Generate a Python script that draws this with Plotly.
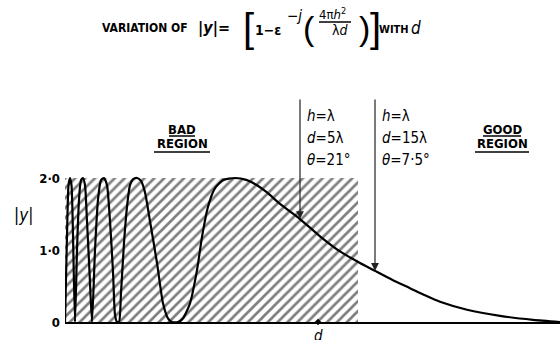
import plotly.graph_objects as go

# curve |y| against d (horizontal scale is the drawing's)
d_vals = [0.0, 0.4, 0.7, 1.0, 1.3, 1.6, 2.0, 2.4, 2.8, 3.2, 3.6, 4.0, 4.4, 4.9, 5.4,
          6.0, 6.6, 7.2, 7.8, 8.4, 9.0, 9.6, 10.0, 10.4, 10.8, 11.2, 11.8, 12.4, 13.0,
          13.6, 14.4, 15.2, 16.0, 17.0, 18.4, 19.6, 20.6, 21.4, 22.6, 23.6, 25.0, 26.4,
          27.4, 28.6, 30.0, 31.6, 34.0, 36.4, 38.4, 40.4, 43.0, 47.0, 51.0, 55.0, 59.0,
          62.0, 65.6, 69.0, 72.0, 75.0, 80.4, 87.0, 93.6, 99.0]
y_vals = [0.0, 1.2, 1.9, 2.0, 1.9, 1.2, 0.0, 1.0, 1.7, 1.97, 2.0, 1.9, 1.4, 0.7, 0.0,
          1.0, 1.7, 1.97, 2.0, 1.9, 1.4, 0.7, 0.1, 0.0, 0.0, 0.4, 1.1, 1.6, 1.9,
          1.98, 2.0, 1.96, 1.8, 1.4, 0.82, 0.26, 0.05, 0.0, 0.0, 0.05, 0.26, 0.72,
          1.18, 1.6, 1.86, 1.97, 2.0, 1.97, 1.9, 1.8, 1.64, 1.43, 1.19, 0.98, 0.82,
          0.71, 0.58, 0.47, 0.37, 0.28, 0.17, 0.085, 0.03, 0.0]

bad_region_end = 58.6      # right edge of the hatched zone
bad_region_top = 2.0

arrow_d = [47.0, 62.0]
arrow_y = [1.43, 0.71]
arrow_labels = [
    ["<i>h</i>=λ", "<i>d</i>=5λ", "<i>θ</i>=21°"],
    ["<i>h</i>=λ", "<i>d</i>=15λ", "<i>θ</i>=7·5°"],
]
d_mark = 50.6

ytick_vals = [0, 1, 2]
ytick_text = ["<b>0</b>", "<b>1·0</b>", "<b>2·0</b>"]

FONT = "Liberation Sans Narrow, DejaVu Sans Condensed, Arial Narrow, Liberation Sans, sans-serif"
THIN = "Liberation Sans, Arial, sans-serif"

W, H = 560, 340
L, R, T, B = 65, 0, 20, 18
XMAX = (W - L - R) / 5.0
YMAX = (H - T - B) / 72.0


def px(x, y):
    # page pixel position -> paper coords
    return (x - L) / (W - L - R), (H - B - y) / (H - T - B)


fig = go.Figure()

fig.add_trace(go.Bar(
    x=[bad_region_end / 2], y=[bad_region_top], width=[bad_region_end], base=0,
    marker=dict(color="white", line=dict(width=0),
                pattern=dict(shape="/", fgcolor="#000", bgcolor="white", size=7, solidity=0.38)),
    hoverinfo="skip", showlegend=False,
))

fig.add_trace(go.Scatter(
    x=d_vals, y=y_vals, mode="lines",
    line=dict(color="black", width=2.2, shape="spline", smoothing=0.6),
    showlegend=False,
))

fig.add_trace(go.Scatter(
    x=[d_mark], y=[0], mode="markers",
    marker=dict(symbol="diamond", size=5, color="black"),
    showlegend=False, cliponaxis=False,
))

ann = []


def text(x, y, s, size=12, bold=False, family=FONT, **kw):
    xp, yp = px(x, y)
    if bold:
        s = "<b>" + s + "</b>"
    opts = dict(xanchor="center", yanchor="middle")
    opts.update(kw)
    ann.append(dict(x=xp, y=yp, xref="paper", yref="paper", text=s, showarrow=False,
                    font=dict(family=family, size=size, color="black"), **opts))


# title built from pieces
text(145, 28, "VARIATION OF", 12, True)
text(214, 28, "|<i>y</i>|=", 16, True)
text(248, 28, "[", 40, family=THIN)
text(268, 30, "1−ε", 14, True)
text(294, 16, "−<i>j</i>", 15)
text(309, 28, "(", 34, family=THIN)
text(332, 14, "4π<i>h</i><sup>2</sup>", 13)
text(340, 30, "λ<i>d</i>", 14)
text(364, 28, ")", 34, family=THIN)
text(375, 28, "]", 40, family=THIN)
text(394, 29, "WITH", 11, True)
text(416, 28, "<i>d</i>", 17)

# region labels
text(182, 129, "BAD", 13, True)
text(182, 143, "REGION", 13, True)
text(502, 129, "GOOD", 13, True)
text(502, 143, "REGION", 13, True)

# axis labels
text(23, 215, "|<i>y</i>|", 17)
text(318, 336, "<i>d</i>", 15)

# arrows to the curve and their captions
for d, yv, lines in zip(arrow_d, arrow_y, arrow_labels):
    ann.append(dict(x=d, y=yv, xref="x", yref="y", ax=d, ay=(322 - 98) / 72.0,
                    axref="x", ayref="y", showarrow=True, arrowhead=2, arrowsize=1.3,
                    arrowwidth=1.2, arrowcolor="#222", text=""))
    for ln, yy in zip(lines, [116, 138, 160]):
        text(65 + d * 5 + 5, yy, ln, 15, xanchor="left")

shapes = []
for x0, x1, y in [(319, 351, 22), (169, 195, 136), (154, 210, 152), (483, 521, 136), (475, 529, 152)]:
    a, b = px(x0, y), px(x1, y)
    shapes.append(dict(type="line", xref="paper", yref="paper", x0=a[0], x1=b[0],
                       y0=a[1], y1=b[1], line=dict(color="black", width=1.5)))

fig.update_layout(
    width=W, height=H,
    margin=dict(l=L, r=R, t=T, b=B),
    paper_bgcolor="white", plot_bgcolor="white",
    annotations=ann, shapes=shapes,
    bargap=0,
    xaxis=dict(range=[0, XMAX], showline=True, linecolor="black", linewidth=2,
               showgrid=False, zeroline=False, showticklabels=False, ticks=""),
    yaxis=dict(range=[0, YMAX], showline=False, showgrid=False, zeroline=False,
               tickvals=ytick_vals, ticktext=ytick_text, ticks="",
               tickfont=dict(family=FONT, size=13, color="black"),
               ticklabelstandoff=4),
)

# drop the default page margin so the figure sits at the window's corner
fig.write_html("out.html", config={"displayModeBar": False},
               post_script="document.body.style.margin='0px';")
